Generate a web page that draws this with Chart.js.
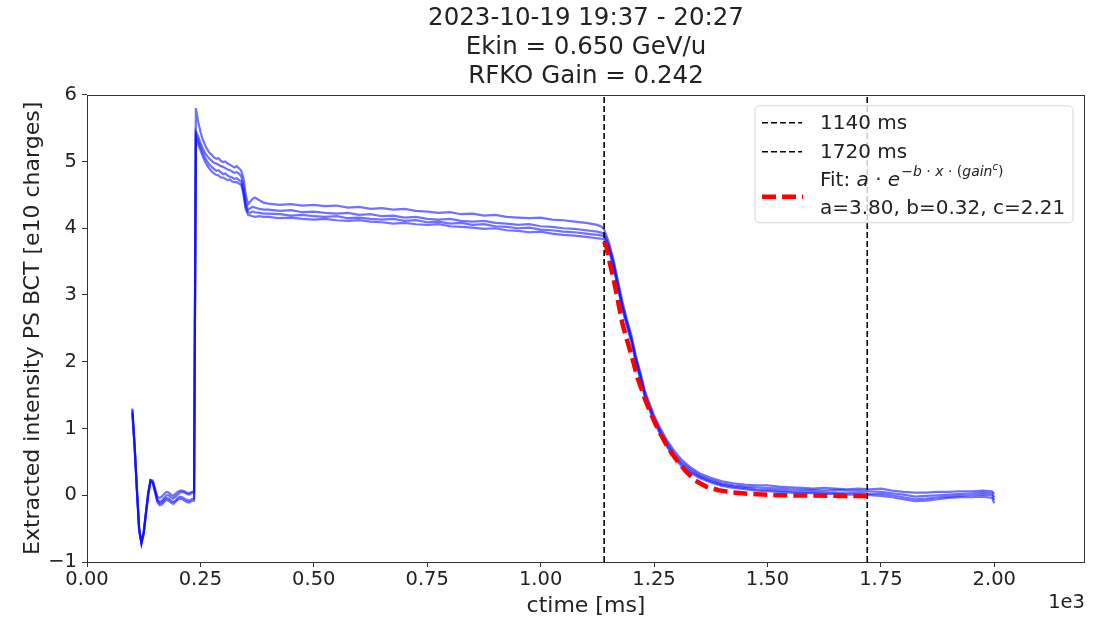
<!DOCTYPE html>
<html>
<head>
<meta charset="utf-8">
<script src="https://cdn.jsdelivr.net/npm/chart.js@4.4.1/dist/chart.umd.min.js"></script>
<style>
  html, body { margin: 0; padding: 0; background: #ffffff; }
  #c { display: block; }
</style>
</head>
<body>
<canvas id="c" width="1109" height="619"></canvas>
<script>
// ---------------- DATA ----------------
const titleLines = ['2023-10-19 19:37 - 20:27', 'Ekin = 0.650 GeV/u', 'RFKO Gain = 0.242'];
const xLabel = 'ctime [ms]';
const yLabel = 'Extracted intensity PS BCT [e10 charges]';
const xOffsetText = '1e3';

// sample times (ms)
const ctime = [
  100,105,110,115,120,125,130,135,140,145,150,155,160,165,170,175,180,185,190,195,200,205,210,215,220,225,230,236,
  240,245,250,255,260,265,270,275,280,285,290,295,300,305,310,315,320,325,330,335,340,345,350,355,360,365,370,380,390,
  400,425,450,475,500,525,550,575,600,625,650,675,700,725,750,775,800,825,850,875,900,925,950,975,1000,1025,1050,1075,1100,1125,1135,
  1140,1150,1160,1170,1180,1190,1200,1210,1220,1230,1240,1250,1265,1280,1295,1310,1330,1350,1375,
  1400,1425,1450,1475,1500,1525,1550,1575,1600,1625,1650,1675,1700,1725,1750,1775,1800,1825,1850,1875,1900,1925,1950,1975,1995,2000
];

const trace1 = [
  1.30,0.75,0.10,-0.50,-0.72,-0.55,-0.25,0.05,0.23,0.22,0.10,-0.02,-0.04,-0.02,0.02,0.05,0.04,0.01,-0.01,0.02,0.05,0.07,0.07,0.06,0.04,0.03,0.05,0.06,
  5.80,5.60,5.45,5.33,5.25,5.18,5.13,5.10,5.06,5.04,5.05,5.01,4.99,5.00,4.97,4.95,4.93,4.91,4.93,4.90,4.86,4.75,4.50,4.36,4.40,4.44,4.46,4.42,4.38,
  4.37,4.35,4.36,4.34,4.35,4.33,4.34,4.31,4.32,4.29,4.30,4.28,4.29,4.26,4.25,4.23,4.24,4.21,4.22,4.19,4.20,4.17,4.16,4.15,4.16,4.13,4.12,4.10,4.08,4.05,4.02,
  3.98,3.80,3.55,3.23,2.91,2.64,2.40,2.09,1.84,1.56,1.38,1.20,0.99,0.81,0.66,0.54,0.42,0.33,0.26,
  0.21,0.18,0.16,0.15,0.15,0.13,0.12,0.11,0.10,0.11,0.10,0.09,0.10,0.09,0.10,0.07,0.05,0.04,0.04,0.05,0.05,0.06,0.06,0.07,0.06,0.02
];
const trace2 = [
  1.25,0.72,0.08,-0.52,-0.72,-0.57,-0.27,0.02,0.22,0.20,0.06,-0.08,-0.12,-0.11,-0.07,-0.04,-0.05,-0.08,-0.10,-0.08,-0.04,-0.02,-0.03,-0.05,-0.07,-0.08,-0.06,-0.05,
  5.45,5.38,5.28,5.20,5.13,5.08,5.04,5.01,4.98,4.97,4.95,4.93,4.92,4.90,4.88,4.87,4.85,4.83,4.84,4.82,4.78,4.62,4.38,4.28,4.30,4.32,4.31,4.29,4.28,
  4.28,4.26,4.27,4.24,4.25,4.23,4.22,4.23,4.20,4.21,4.18,4.19,4.16,4.17,4.14,4.13,4.14,4.11,4.10,4.11,4.08,4.07,4.05,4.06,4.03,4.02,4.00,3.99,3.97,3.95,3.93,
  3.92,3.75,3.50,3.18,2.86,2.60,2.36,2.05,1.80,1.52,1.34,1.16,0.95,0.77,0.62,0.50,0.39,0.30,0.23,
  0.18,0.15,0.13,0.12,0.11,0.10,0.09,0.08,0.08,0.07,0.08,0.07,0.07,0.06,0.05,0.03,0.01,-0.02,-0.01,0.00,0.01,0.02,0.03,0.04,0.03,-0.03
];
const trace3 = [
  1.28,0.74,0.10,-0.50,-0.70,-0.55,-0.26,0.03,0.22,0.20,0.07,-0.06,-0.10,-0.08,-0.04,0.00,0.00,-0.03,-0.05,-0.02,0.01,0.04,0.05,0.04,0.02,0.01,0.03,0.04,
  5.40,5.32,5.22,5.14,5.06,5.00,4.95,4.92,4.89,4.86,4.87,4.84,4.81,4.82,4.79,4.77,4.76,4.74,4.75,4.72,4.70,4.55,4.32,4.24,4.23,4.25,4.24,4.23,4.22,
  4.22,4.21,4.19,4.20,4.18,4.17,4.18,4.15,4.16,4.14,4.13,4.14,4.11,4.12,4.09,4.10,4.07,4.08,4.05,4.06,4.03,4.02,4.00,4.01,3.98,3.97,3.95,3.94,3.92,3.90,3.89,
  3.89,3.72,3.47,3.15,2.83,2.57,2.33,2.02,1.77,1.50,1.31,1.13,0.92,0.74,0.59,0.47,0.36,0.28,0.21,
  0.16,0.13,0.11,0.09,0.08,0.07,0.06,0.05,0.05,0.04,0.04,0.03,0.04,0.02,0.02,0.00,-0.03,-0.06,-0.05,-0.03,-0.02,-0.01,0.00,0.01,0.00,-0.07
];
const trace4 = [
  1.22,0.70,0.06,-0.54,-0.72,-0.58,-0.28,0.00,0.20,0.18,0.04,-0.10,-0.15,-0.14,-0.10,-0.07,-0.08,-0.11,-0.13,-0.10,-0.07,-0.05,-0.06,-0.08,-0.10,-0.11,-0.09,-0.08,
  5.35,5.26,5.17,5.08,5.00,4.94,4.89,4.85,4.82,4.80,4.79,4.76,4.76,4.74,4.72,4.73,4.70,4.69,4.69,4.67,4.65,4.50,4.28,4.20,4.19,4.18,4.17,4.18,4.17,
  4.17,4.15,4.16,4.14,4.13,4.14,4.12,4.11,4.12,4.10,4.09,4.07,4.08,4.06,4.05,4.06,4.03,4.02,4.01,3.99,4.00,3.97,3.96,3.94,3.95,3.92,3.90,3.89,3.87,3.85,3.84,
  3.84,3.68,3.43,3.11,2.79,2.53,2.29,1.98,1.73,1.46,1.28,1.10,0.89,0.71,0.56,0.44,0.34,0.26,0.19,
  0.14,0.11,0.09,0.07,0.06,0.05,0.04,0.03,0.03,0.02,0.02,0.01,0.01,0.00,-0.01,-0.03,-0.06,-0.09,-0.08,-0.06,-0.04,-0.03,-0.03,-0.02,-0.04,-0.12
];

// fit curve
const fitTime = [1140,1145,1150,1158,1165,1173,1180,1188,1195,1205,1213,1222,1231,1242,1253,1264,1275,1290,1305,1320,1341,1365,1393,1420,1451,1490,1525,1600,1660,1720];
const fitVals = [3.80,3.72,3.55,3.32,3.10,2.82,2.58,2.38,2.22,1.98,1.77,1.60,1.42,1.24,1.07,0.92,0.78,0.62,0.48,0.36,0.22,0.13,0.075,0.045,0.025,0.01,0.0,-0.005,-0.01,-0.01];

// vertical markers
const markerTimes = [1140, 1720];
const markerLabels = ['1140 ms', '1720 ms'];
const fitLabelLine2 = 'a=3.80, b=0.32, c=2.21';

// axes
const xMin = 0, xMax = 2200;
const xTickValues = [0, 250, 500, 750, 1000, 1250, 1500, 1750, 2000];
const yMin = -1, yMax = 6;
const yTickValues = [-1, 0, 1, 2, 3, 4, 5, 6];

// ---------------- CHECK ----------------
[trace1, trace2, trace3, trace4].forEach((t, i) => {
  if (t.length !== ctime.length) throw new Error('trace' + (i + 1) + ' length ' + t.length + ' != ' + ctime.length);
});
if (fitTime.length !== fitVals.length) throw new Error('fit length mismatch');

// ---------------- BUILD ----------------
const FONT = "'DejaVu Sans', sans-serif";
const TXT = '#222222';
const toXY = (xs, ys) => xs.map((x, i) => ({ x: x, y: ys[i] }));

const traceColor = 'rgba(10, 10, 255, 0.58)';
const datasets = [];
datasets.push({
  label: 'fit', data: toXY(fitTime, fitVals),
  borderColor: '#ff0000', borderWidth: 4.5, borderDash: [14, 6], pointRadius: 0, tension: 0, fill: false
});
markerTimes.forEach((t, i) => {
  datasets.push({
    label: markerLabels[i], data: [{ x: t, y: yMin }, { x: t, y: yMax }],
    borderColor: '#000000', borderWidth: 1.6, borderDash: [6, 3], pointRadius: 0, fill: false
  });
});
[trace1, trace2, trace3, trace4].forEach((t, i) => {
  datasets.push({
    label: 'trace' + (i + 1), data: toXY(ctime, t),
    borderColor: traceColor, borderWidth: 2.2, pointRadius: 0, tension: 0, fill: false
  });
});

const fmtY = v => (v < 0 ? '\u2212' + Math.abs(v) : String(v));

// matplotlib-like frame, legend and offset text
const extrasPlugin = {
  id: 'mplExtras',
  afterDatasetsDraw(chart) {
    const ctx = chart.ctx;
    const a = chart.chartArea;
    ctx.save();
    // frame
    ctx.strokeStyle = '#333333';
    ctx.lineWidth = 1;
    ctx.strokeRect(Math.round(a.left) + 0.5, Math.round(a.top) + 0.5,
                   Math.round(a.right - a.left) - 1, Math.round(a.bottom - a.top));

    // legend
    const w = 318, h = 117;
    const lx = a.right - 12 - w, ly = a.top + 11;
    ctx.beginPath();
    const r = 5;
    ctx.moveTo(lx + r, ly);
    ctx.lineTo(lx + w - r, ly); ctx.quadraticCurveTo(lx + w, ly, lx + w, ly + r);
    ctx.lineTo(lx + w, ly + h - r); ctx.quadraticCurveTo(lx + w, ly + h, lx + w - r, ly + h);
    ctx.lineTo(lx + r, ly + h); ctx.quadraticCurveTo(lx, ly + h, lx, ly + h - r);
    ctx.lineTo(lx, ly + r); ctx.quadraticCurveTo(lx, ly, lx + r, ly);
    ctx.closePath();
    ctx.fillStyle = 'rgba(255,255,255,0.8)';
    ctx.fill();
    ctx.strokeStyle = '#d6d6d6';
    ctx.lineWidth = 1;
    ctx.stroke();

    const hx0 = lx + 7, hx1 = lx + 47, tx = lx + 65;
    const rows = [ly + 17, ly + 46];
    ctx.textBaseline = 'middle';
    ctx.textAlign = 'left';
    rows.forEach((ry, i) => {
      ctx.beginPath();
      ctx.setLineDash([6, 3]);
      ctx.strokeStyle = '#000';
      ctx.lineWidth = 1.6;
      ctx.moveTo(hx0, ry); ctx.lineTo(hx1, ry);
      ctx.stroke();
      ctx.setLineDash([]);
      ctx.fillStyle = TXT;
      ctx.font = '20px ' + FONT;
      ctx.fillText(markerLabels[i], tx, ry + 1);
    });
    // fit handle
    const fy = ly + 91;
    ctx.beginPath();
    ctx.setLineDash([14, 6]);
    ctx.strokeStyle = '#ff0000';
    ctx.lineWidth = 4.5;
    ctx.moveTo(hx0, fy); ctx.lineTo(hx1 + 1, fy);
    ctx.stroke();
    ctx.setLineDash([]);
    // fit label line 1 with math
    const y1 = ly + 75, y2 = ly + 103;
    let cx = tx;
    const piece = (s, font, dy) => {
      ctx.font = font;
      ctx.fillText(s, cx, y1 + (dy || 0));
      cx += ctx.measureText(s).width;
    };
    const N = '20px ' + FONT, I = 'italic 20px ' + FONT;
    const SN = '14px ' + FONT, SI = 'italic 14px ' + FONT;
    const SSI = 'italic 10px ' + FONT;
    ctx.fillStyle = TXT;
    piece('Fit: ', N);
    piece('a', I);
    piece(' \u00b7 ', N);
    piece('e', I);
    cx += 1;
    piece('\u2212', SN, -8);
    piece('b', SI, -8);
    piece(' \u00b7 ', SN, -8);
    piece('x', SI, -8);
    piece(' \u00b7 ', SN, -8);
    piece('(', SN, -8);
    piece('gain', SI, -8);
    piece('c', SSI, -13);
    piece(')', SN, -8);
    ctx.font = N;
    ctx.fillText(fitLabelLine2, tx, y2);

    // offset text
    ctx.font = '19.5px ' + FONT;
    ctx.textAlign = 'right';
    ctx.fillText(xOffsetText, a.right, a.bottom + 41);
    ctx.restore();
  }
};

const chart = new Chart(document.getElementById('c'), {
  type: 'line',
  data: { datasets: datasets },
  options: {
    responsive: false,
    animation: false,
    devicePixelRatio: 1,
    layout: { padding: { left: 0, right: 24, top: 0, bottom: 0 } },
    plugins: {
      legend: { display: false },
      tooltip: { enabled: false },
      title: {
        display: true,
        text: titleLines,
        fullSize: false,
        color: TXT,
        font: { family: FONT, size: 24.5, weight: 'normal', lineHeight: 1.18 },
        padding: { top: 4, bottom: 4 }
      }
    },
    scales: {
      x: {
        type: 'linear',
        min: xMin, max: xMax,
        afterFit: s => { s.height = 57; },
        afterBuildTicks: s => { s.ticks = xTickValues.map(v => ({ value: v })); },
        ticks: {
          autoSkip: false, maxRotation: 0,
          color: TXT, padding: 1,
          font: { family: FONT, size: 19.5 },
          callback: v => (v / 1000).toFixed(2)
        },
        grid: { display: true, drawOnChartArea: false, drawTicks: true, tickLength: 5, tickColor: '#333', tickWidth: 1 },
        border: { display: false },
        title: { display: true, text: xLabel, color: TXT, font: { family: FONT, size: 22 }, padding: { top: 0, bottom: 0 } }
      },
      y: {
        type: 'linear',
        min: yMin, max: yMax,
        afterFit: s => { s.width = 87; },
        afterBuildTicks: s => { s.ticks = yTickValues.map(v => ({ value: v })); },
        ticks: {
          autoSkip: false, color: TXT, padding: 5,
          font: { family: FONT, size: 19.5 },
          callback: fmtY
        },
        grid: { display: true, drawOnChartArea: false, drawTicks: true, tickLength: 5, tickColor: '#333', tickWidth: 1 },
        border: { display: false },
        title: { display: true, text: yLabel, color: TXT, font: { family: FONT, size: 22 }, padding: { top: 20, bottom: 0 } }
      }
    }
  },
  plugins: [extrasPlugin]
});
</script>
</body>
</html>
